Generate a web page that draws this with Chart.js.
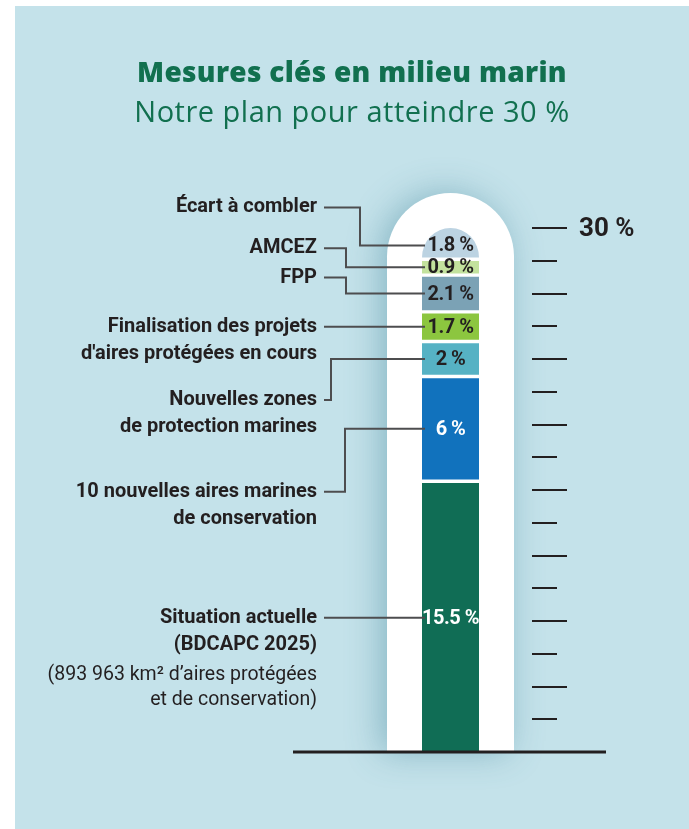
<!DOCTYPE html>
<html lang="fr">
<head>
<meta charset="utf-8">
<title>Mesures clés en milieu marin</title>
<script src="https://cdn.jsdelivr.net/npm/chart.js@4.4.1/dist/chart.umd.min.js"></script>
<style>
  html, body { margin: 0; padding: 0; background: #fff; }
  #panel { position: absolute; left: 15px; top: 6px; width: 674px; height: 823px; background: #c4e2ea; overflow: hidden; }
  #wrap { position: absolute; left: 0; top: 0; width: 674px; height: 823px; }
  #titles { position: absolute; left: 0; top: 47px; width: 674px; text-align: center; color: #11704f; font-family: 'Open Sans', Lato, sans-serif; }
  #titles h1 { margin: 0; font-size: 28px; font-weight: 800; line-height: 37px; letter-spacing: 0.3px; }
  #titles h2 { margin: 0; font-size: 29px; font-weight: 400; line-height: 42px; letter-spacing: 0.5px; }
</style>
</head>
<body>
<div id="panel">
  <div id="wrap"><canvas id="thermoChart"></canvas></div>
  <div id="titles">
    <h1>Mesures clés en milieu marin</h1>
    <h2>Notre plan pour atteindre 30 %</h2>
  </div>
</div>
<script>
// data, bottom of the thermometer first
const categories = ['Plan 30 %'];
const segmentNames = [
  ['Situation actuelle', '(BDCAPC 2025)'],
  ['10 nouvelles aires marines', 'de conservation'],
  ['Nouvelles zones', 'de protection marines'],
  ['Finalisation des projets', "d'aires protégées en cours"],
  ['FPP'],
  ['AMCEZ'],
  ['Écart à combler']
];
const segmentNotes = [
  ['(893 963 km² d’aires protégées', 'et de conservation)'],
  [], [], [], [], [], []
];
const segmentValues = [15.5, 6, 2, 1.7, 2.1, 0.9, 1.8];
const target = 30;
const targetLabel = '30 %';
const tickValues = [1.875, 3.75, 5.625, 7.5, 9.375, 11.25, 13.125, 15, 16.875, 18.75, 20.625, 22.5, 24.375, 26.25, 28.125, 30];

// styles
const segmentColors = ['#106d55', '#1172bd', '#56b2c4', '#8cc63f', '#7ba2b5', '#c3e29d', '#bcd3e2'];
const valueColors = ['#ffffff', '#ffffff', '#231f20', '#231f20', '#231f20', '#231f20', '#231f20'];
// label layout: offset of first text line from connector, x of connector elbow (null = straight)
const labelDy = [0, 63, 41, 0, -16, -19, -38];
const labelElbow = [null, 330, 316, null, 331, 331, 345];
const labelRight = 302;
const ink = '#231f20';
const lineInk = '#4d4d4f';
const gap = 2;
const domeIndex = segmentValues.length - 1;

const centerOf = (el, i) => {
  if (i === domeIndex) return el.base - gap - 12;
  if (i === 0) return (el.y + gap + el.base) / 2;
  return (el.y + el.base) / 2;
};

const thermoPlugin = {
  id: 'thermo',
  beforeDatasetsDraw(chart) {
    const {ctx, scales: {y}} = chart;
    const bar = chart.getDatasetMeta(0).data[0];
    const cx = bar.x, r = 63.5;
    const arcY = y.getPixelForValue(target) + 28.5;
    const bottom = y.getPixelForValue(0);
    ctx.save();
    ctx.shadowColor = 'rgba(60, 128, 150, 0.45)';
    ctx.shadowBlur = 34;
    ctx.shadowOffsetX = -6;
    ctx.fillStyle = '#ffffff';
    ctx.beginPath();
    ctx.moveTo(cx - r, bottom);
    ctx.lineTo(cx - r, arcY);
    ctx.arc(cx, arcY, r, Math.PI, 0);
    ctx.lineTo(cx + r, bottom);
    ctx.closePath();
    ctx.fill();
    ctx.restore();
  },
  beforeDatasetDraw(chart, args) {
    if (args.index !== domeIndex) return;
    const {ctx} = chart;
    const el = chart.getDatasetMeta(args.index).data[0];
    const rx = el.width / 2, ry = el.base - gap - el.y;
    ctx.save();
    ctx.fillStyle = segmentColors[domeIndex];
    ctx.beginPath();
    ctx.ellipse(el.x, el.base - gap, rx, ry, 0, Math.PI, 2 * Math.PI);
    ctx.closePath();
    ctx.fill();
    ctx.restore();
    return false;
  },
  afterDatasetsDraw(chart) {
    const {ctx, scales: {y}} = chart;
    const bar0 = chart.getDatasetMeta(0).data[0];
    const cx = bar0.x;
    ctx.save();

    // baseline
    ctx.strokeStyle = ink;
    ctx.lineWidth = 3;
    ctx.beginPath();
    ctx.moveTo(cx - 157.5, y.getPixelForValue(0));
    ctx.lineTo(cx + 155.5, y.getPixelForValue(0));
    ctx.stroke();

    // scale ticks
    ctx.lineWidth = 2;
    tickValues.forEach((v, k) => {
      const py = Math.round(y.getPixelForValue(v));
      const long = k % 2 === 1;
      ctx.beginPath();
      ctx.moveTo(cx + 81.5, py);
      ctx.lineTo(cx + (long ? 116.5 : 106.5), py);
      ctx.stroke();
    });
    ctx.fillStyle = ink;
    ctx.font = 'bold 26px Roboto';
    ctx.textAlign = 'left';
    ctx.textBaseline = 'middle';
    ctx.fillText(targetLabel, cx + 128.5, y.getPixelForValue(target) + 1);

    // connectors and labels
    segmentValues.forEach((v, i) => {
      const el = chart.getDatasetMeta(i).data[0];
      const cy = centerOf(el, i);
      const barLeft = el.x - el.width / 2;
      const ty = cy + labelDy[i];
      ctx.strokeStyle = lineInk;
      ctx.lineWidth = 2;
      ctx.beginPath();
      ctx.moveTo(labelRight + 7, ty);
      if (labelElbow[i] !== null) {
        ctx.lineTo(labelElbow[i], ty);
        ctx.lineTo(labelElbow[i], cy);
      }
      ctx.lineTo(barLeft + 3, cy);
      ctx.stroke();

      ctx.textAlign = 'right';
      ctx.fillStyle = ink;
      ctx.font = 'bold 20px Roboto';
      let ly = ty;
      segmentNames[i].forEach(line => {
        ctx.fillText(line, labelRight, ly);
        ly += 27;
      });
      ctx.font = '19.5px Roboto';
      ly += 3;
      segmentNotes[i].forEach(line => {
        ctx.fillText(line, labelRight, ly);
        ly += 25;
      });

      ctx.textAlign = 'center';
      ctx.font = 'bold 20px Roboto';
      ctx.letterSpacing = '-0.5px';
      ctx.fillStyle = valueColors[i];
      ctx.fillText(v + ' %', el.x, cy + 1);
      ctx.letterSpacing = '0px';
    });
    ctx.restore();
  }
};

new Chart(document.getElementById('thermoChart'), {
  type: 'bar',
  data: {
    labels: categories,
    datasets: segmentValues.map((v, i) => ({
      label: segmentNames[i].join(' '),
      data: [v],
      backgroundColor: segmentColors[i],
      borderColor: '#ffffff',
      borderWidth: {top: gap, bottom: i === 0 ? 0 : gap, left: 0, right: 0},
      borderSkipped: false,
      barPercentage: 1,
      categoryPercentage: 1,
      stack: 'plan'
    }))
  },
  options: {
    responsive: true,
    maintainAspectRatio: false,
    animation: false,
    events: [],
    layout: {padding: {left: 407, right: 210, top: 222, bottom: 77}},
    plugins: {legend: {display: false}, tooltip: {enabled: false}},
    scales: {
      x: {display: false, stacked: true},
      y: {display: false, stacked: true, min: 0, max: target}
    }
  },
  plugins: [thermoPlugin]
});
</script>
</body>
</html>
